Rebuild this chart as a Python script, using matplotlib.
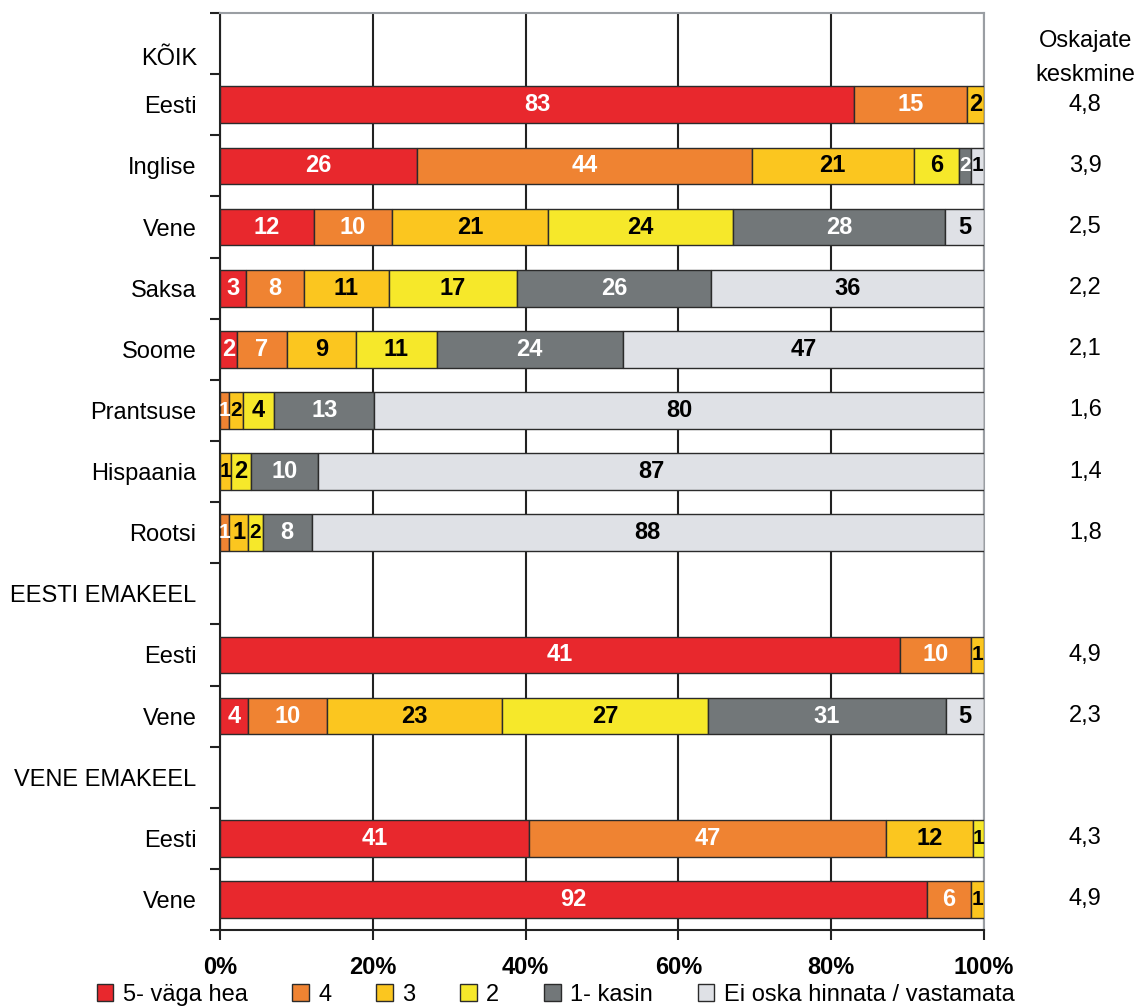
import numpy as np
import matplotlib
matplotlib.use("Agg")
import matplotlib.pyplot as plt
from matplotlib.patches import Patch
from matplotlib.transforms import blended_transform_factory

plt.rcParams['font.family'] = ['Liberation Sans', 'DejaVu Sans']

# kategooriad (tühjad read on pealkirjad)
categories = ["KÕIK", "Eesti", "Inglise", "Vene", "Saksa", "Soome", "Prantsuse",
              "Hispaania", "Rootsi", "EESTI EMAKEEL", "Eesti", "Vene",
              "VENE EMAKEEL", "Eesti", "Vene"]
series_names = ["5- väga hea", "4", "3", "2", "1- kasin", "Ei oska hinnata / vastamata"]
colors = ["#e8282d", "#ef8332", "#fbc61f", "#f6e82a", "#727779", "#dfe1e6"]
text_colors = ["white", "white", "black", "black", "white", "black"]

# riba laiused (%), loetud pildilt: 5, 4, 3, 2, 1, ei oska
v5 = [0, 83.0, 25.8, 12.3, 3.4, 2.2, 0, 0, 0, 0, 89.0, 3.7, 0, 40.4, 92.5]
v4 = [0, 14.8, 43.8, 10.2, 7.6, 6.6, 1.2, 0, 1.2, 0, 9.3, 10.3, 0, 46.8, 5.8]
v3 = [0, 2.2, 21.2, 20.4, 11.1, 9.0, 1.8, 1.5, 2.5, 0, 1.7, 22.9, 0, 11.4, 1.7]
v2 = [0, 0, 5.9, 24.2, 16.8, 10.6, 4.1, 2.5, 1.9, 0, 0, 27.0, 0, 1.4, 0]
v1 = [0, 0, 1.6, 27.8, 25.4, 24.3, 13.1, 8.8, 6.4, 0, 0, 31.1, 0, 0, 0]
v0 = [0, 0, 1.7, 5.1, 35.7, 47.3, 79.8, 87.2, 88.0, 0, 0, 5.0, 0, 0, 0]

# andmesildid nagu originaalis
l5 = ["", "83", "26", "12", "3", "2", "", "", "", "", "41", "4", "", "41", "92"]
l4 = ["", "15", "44", "10", "8", "7", "1", "", "1", "", "10", "10", "", "47", "6"]
l3 = ["", "2", "21", "21", "11", "9", "2", "1", "1", "", "1", "23", "", "12", "1"]
l2 = ["", "", "6", "24", "17", "11", "4", "2", "2", "", "", "27", "", "1", ""]
l1 = ["", "", "2", "28", "26", "24", "13", "10", "8", "", "", "31", "", "", ""]
l0 = ["", "", "1", "5", "36", "47", "80", "87", "88", "", "", "5", "", "", ""]

means = ["", "4,8", "3,9", "2,5", "2,2", "2,1", "1,6", "1,4", "1,8", "",
         "4,9", "2,3", "", "4,3", "4,9"]

data = np.array([v5, v4, v3, v2, v1, v0], dtype=float)
labels = [l5, l4, l3, l2, l1, l0]
n = len(categories)
y = np.arange(n)

fig = plt.figure(figsize=(11.34, 10.06), dpi=100)
ax = fig.add_axes([0.194, 0.0755, 0.6737, 0.9115])

left = np.zeros(n)
for s in range(len(series_names)):
    w = data[s]
    m = w > 0
    ax.barh(y[m], w[m], left=left[m], height=0.6, color=colors[s],
            edgecolor="#2b2b2b", linewidth=1.0, zorder=3)
    for i in range(n):
        if labels[s][i]:
            fs = 17 if w[i] >= 2 else 15
            ax.text(left[i] + w[i] / 2, y[i], labels[s][i], ha="center", va="center",
                    color=text_colors[s], fontsize=fs, fontweight="bold", zorder=4)
    left += w

ax.set_xlim(0, 100)
ax.set_ylim(n - 0.5, -0.5)
ax.set_xticks(np.arange(0, 101, 20))
ax.set_xticklabels(["%d%%" % t for t in range(0, 101, 20)], fontsize=17,
                   fontweight="bold")
ax.tick_params(axis="x", length=7, width=1.5, pad=12, color="#222222")
ax.xaxis.grid(True, color="#222222", linewidth=1.5, zorder=0)
ax.set_axisbelow(True)

ax.set_yticks(y)
ax.set_yticklabels([""] + categories[1:], fontsize=17)
ax.tick_params(axis="y", length=0, pad=17)
ax.set_yticks(np.arange(-0.5, n, 1), minor=True)
ax.tick_params(axis="y", which="minor", length=7, width=1.5, color="#222222")
ax.text(-3.0, 0.25, categories[0], ha="right", va="center", fontsize=17)

for sp in ["left", "bottom"]:
    ax.spines[sp].set_color("#222222")
    ax.spines[sp].set_linewidth(1.5)
for sp in ["top", "right"]:
    ax.spines[sp].set_color("#9a9ea3")
    ax.spines[sp].set_linewidth(1.5)

# oskajate keskmine paremal
tr = blended_transform_factory(fig.transFigure, ax.transData)
ax.text(0.957, -0.05, "Oskajate", transform=tr, ha="center", va="center", fontsize=17)
ax.text(0.957, 0.52, "keskmine", transform=tr, ha="center", va="center", fontsize=17)
for i in range(n):
    if means[i]:
        ax.text(0.957, y[i], means[i], transform=tr, ha="center", va="center",
                fontsize=17)

handles = [Patch(facecolor=c, edgecolor="#2b2b2b", linewidth=1.0) for c in colors]
fig.legend(handles, series_names, loc="center", bbox_to_anchor=(0.49, 0.011),
           ncol=6, frameon=False, fontsize=17, handlelength=0.7, handleheight=0.7,
           handletextpad=0.4, columnspacing=1.9)

fig.savefig("out.png", dpi=100)
